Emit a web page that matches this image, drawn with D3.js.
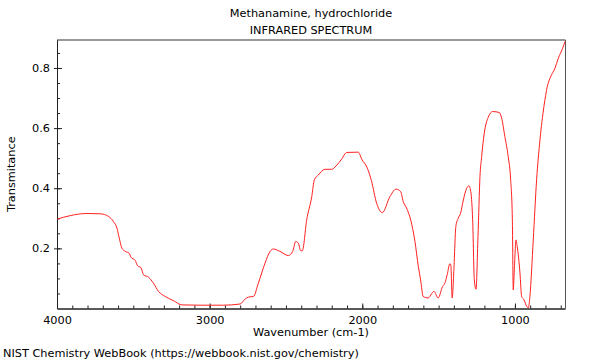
<!DOCTYPE html>
<html>
<head>
<meta charset="utf-8">
<script src="https://cdn.jsdelivr.net/npm/d3@7"></script>
<style>
  body { margin: 0; background: #fff; }
  text { font-family: "DejaVu Sans", sans-serif; }
</style>
</head>
<body>
<script>
// spectrum trace: wavenumber (cm-1) and transmitance
var wavenumbers = [4000, 3913, 3804, 3717, 3662, 3630, 3607, 3592, 3575, 3553, 3527, 3516, 3488, 3472, 3450, 3433,
  3400, 3368, 3335, 3291, 3237, 3182, 3062, 2910, 2800, 2768, 2746, 2713, 2681, 2637, 2604, 2583, 2539, 2484,
  2456, 2436, 2419, 2403, 2393, 2364, 2331, 2314, 2288, 2244, 2200, 2172, 2135, 2102, 2026, 2004, 1967, 1940,
  1906, 1869, 1819, 1779, 1749, 1732, 1710, 1683, 1655, 1633, 1618, 1601, 1568, 1546, 1531, 1503, 1474, 1459,
  1444, 1426, 1420, 1411, 1400, 1387, 1372, 1356, 1338, 1316, 1301, 1288, 1277, 1266, 1255, 1242, 1229, 1218,
  1201, 1175, 1146, 1103, 1087, 1066, 1044, 1028, 1017, 1011, 1004, 993, 985, 967, 956, 941, 923, 912, 902, 880,
  858, 836, 810, 788, 766, 738, 716, 687, 672];
var transmitance = [0.297, 0.309, 0.316, 0.315, 0.306, 0.289, 0.267, 0.234, 0.201, 0.190, 0.184, 0.171, 0.160, 0.142, 0.136, 0.112,
  0.104, 0.084, 0.057, 0.040, 0.026, 0.012, 0.011, 0.011, 0.015, 0.031, 0.038, 0.040, 0.084, 0.151, 0.190, 0.198, 0.190, 0.176,
  0.190, 0.223, 0.217, 0.192, 0.192, 0.295, 0.372, 0.428, 0.444, 0.463, 0.463, 0.474, 0.497, 0.519, 0.520, 0.497, 0.467, 0.425,
  0.350, 0.319, 0.372, 0.397, 0.389, 0.356, 0.334, 0.295, 0.223, 0.140, 0.095, 0.040, 0.035, 0.049, 0.057, 0.035, 0.073, 0.084,
  0.112, 0.149, 0.145, 0.035, 0.129, 0.273, 0.300, 0.317, 0.361, 0.400, 0.408, 0.384, 0.295, 0.095, 0.064, 0.239, 0.439, 0.505,
  0.583, 0.636, 0.655, 0.652, 0.633, 0.572, 0.505, 0.428, 0.300, 0.062, 0.129, 0.228, 0.206, 0.118, 0.040, 0.029, 0.007, 0.002, 0.040, 0.228,
  0.428, 0.561, 0.672, 0.738, 0.771, 0.799, 0.832, 0.866, 0.888];

var xMajorTicks = [4000, 3000, 2000, 1000];
var yMajorTicks = [0.2, 0.4, 0.6, 0.8];
var titleLines = ["Methanamine, hydrochloride", "INFRARED SPECTRUM"];
var footer = "NIST Chemistry WebBook (https://webbook.nist.gov/chemistry)";

var svgWidth = 600, svgHeight = 360;
var plotLeft = 57, plotRight = 565, plotTop = 40, plotBottom = 308.5;
var fontSize = "11.3px";

var svg = d3.select("body").append("svg")
  .attr("width", svgWidth)
  .attr("height", svgHeight);

var x = d3.scaleLinear().domain([4000, 672]).range([plotLeft, plotRight]);
var y = d3.scaleLinear().domain([0, 0.893]).range([plotBottom, plotTop]);

// frame: top and right sides in grey
svg.append("line")
  .attr("x1", plotLeft).attr("x2", plotRight + 0.5)
  .attr("y1", plotTop).attr("y2", plotTop)
  .attr("stroke", "#999").attr("stroke-width", 2);
svg.append("line")
  .attr("x1", plotRight + 0.5).attr("x2", plotRight + 0.5)
  .attr("y1", plotTop).attr("y2", plotBottom)
  .attr("stroke", "#555").attr("stroke-width", 1);

var xMinor = d3.range(4000, 671, -100);
var yMinor = d3.range(0.05, 0.89, 0.05);

// bottom axis, ticks point inward
var gx = svg.append("g").attr("transform", `translate(0,${plotBottom})`);
gx.call(d3.axisBottom(x).tickValues(xMinor).tickSizeInner(-3).tickSizeOuter(0).tickFormat(""));
gx.append("g").call(d3.axisBottom(x).tickValues(xMajorTicks).tickSizeInner(-5).tickSizeOuter(0).tickPadding(7).tickFormat(d3.format("d")));

var gy = svg.append("g").attr("transform", `translate(${plotLeft},0)`);
gy.call(d3.axisLeft(y).tickValues(yMinor).tickSizeInner(-3).tickSizeOuter(0).tickFormat(""));
var gyMajor = gy.append("g").call(d3.axisLeft(y).tickValues(yMajorTicks).tickSizeInner(-5).tickSizeOuter(0).tickPadding(7).tickFormat(d3.format(".1f")));
gyMajor.selectAll(".tick line").attr("x1", -3);

svg.selectAll(".domain").attr("stroke", "#222");
svg.selectAll(".tick line").attr("stroke", "#222");
svg.selectAll(".tick text")
  .attr("font-family", "DejaVu Sans")
  .attr("font-size", fontSize)
  .attr("fill", "#000");

// spectrum
var pts = wavenumbers.map(function(w, i) { return [w, transmitance[i]]; });
var line = d3.line()
  .x(function(d) { return x(d[0]); })
  .y(function(d) { return y(d[1]); })
  .curve(d3.curveMonotoneX);

svg.append("path")
  .datum(pts)
  .attr("d", line)
  .attr("fill", "none")
  .attr("stroke", "#ff2020")
  .attr("stroke-width", 1);

// texts
svg.selectAll(".title")
  .data(titleLines)
  .enter()
  .append("text")
  .attr("x", (plotLeft + plotRight) / 2)
  .attr("y", function(d, i) { return 17 + i * 17; })
  .attr("text-anchor", "middle")
  .attr("font-size", fontSize)
  .text(function(d) { return d; });

svg.append("text")
  .attr("x", (plotLeft + plotRight) / 2)
  .attr("y", 336)
  .attr("text-anchor", "middle")
  .attr("font-size", fontSize)
  .text("Wavenumber (cm-1)");

svg.append("text")
  .attr("transform", `translate(15,${(plotTop + plotBottom) / 2})rotate(-90)`)
  .attr("text-anchor", "middle")
  .attr("font-size", fontSize)
  .text("Transmitance");

svg.append("text")
  .attr("x", 3)
  .attr("y", 357)
  .attr("font-size", fontSize)
  .text(footer);
</script>
</body>
</html>
